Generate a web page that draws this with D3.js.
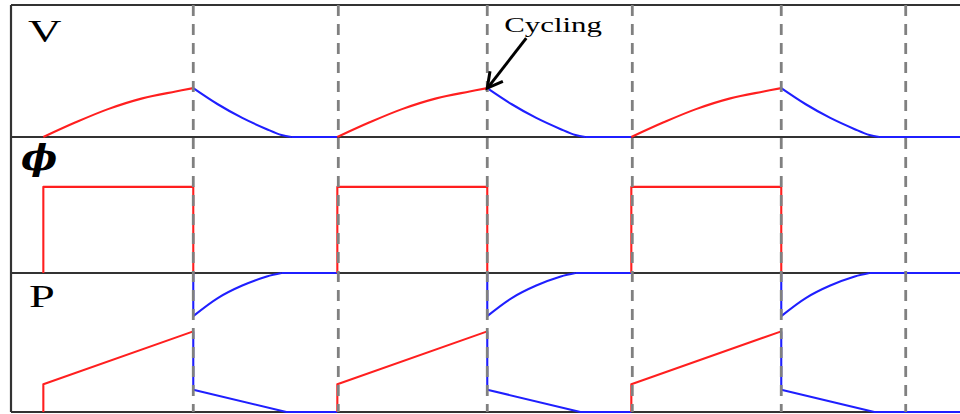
<!DOCTYPE html>
<html>
<head>
<meta charset="utf-8">
<script src="https://cdn.jsdelivr.net/npm/d3@7/dist/d3.min.js"></script>
<style>
  html, body { margin: 0; padding: 0; background: #fff; }
  svg { display: block; }
</style>
</head>
<body>
<svg id="chart" width="960" height="414"></svg>
<script>
// ---- timing of the three cycles (time units) ----
const cycleStart = [0.33, 3.33, 6.33];
const cycleFall  = [1.86, 4.86, 7.86];
const markerTimes = [1.86, 3.34, 4.86, 6.34, 7.86, 9.13];
const tEnd = 9.684;

// ---- V : rise while heating, decay after cycling ----
const vRiseT  = [0, 0.33, 0.66, 1.01, 1.35, 1.53];
const vRiseV  = [0, 0.30, 0.57, 0.79, 0.93, 1.00];
const vDecayT = [0, 0.25, 0.50, 0.75, 0.90, 1.00];
const vDecayV = [1.00, 0.67, 0.39, 0.16, 0.04, 0];

// ---- phi : on / off level ----
const phiOn = 1;

// ---- P : linear ramp, then two relaxing branches ----
const pRampV   = [0.20, 0.58];
const pUpperT  = [0, 0.25, 0.50, 0.75, 0.90];
const pUpperV  = [0.69, 0.82, 0.91, 0.975, 1.00];
const pLowerT  = [0, 0.95];
const pLowerV  = [0.16, 0];
const pTop = 1;

// ---- panel labels ----
const panelLabels = ["V", "\u03D5", "P"];

const svg = d3.select("#chart");
const left = 11, right = 960;
const rows = [5, 137, 273, 412];

const x = d3.scaleLinear().domain([0, tEnd]).range([left, right]);
const yV = d3.scaleLinear().domain([0, 2.7]).range([rows[1], rows[0]]);
const yPhi = d3.scaleLinear().domain([0, 1.58]).range([rows[2], rows[1]]);
const yP = d3.scaleLinear().domain([0, 1]).range([rows[3], rows[2]]);

const RED = "#ff1f1f", BLUE = "#1f1fff";

// frame
const frame = svg.append("g").attr("stroke", "#333").attr("stroke-width", 2.2).attr("fill", "none");
rows.forEach(r => frame.append("line").attr("x1", left).attr("x2", right).attr("y1", r).attr("y2", r));
frame.append("line").attr("x1", left).attr("x2", left).attr("y1", rows[0]).attr("y2", rows[3]);

const smooth = d3.line().x(d => x(d[0])).curve(d3.curveCatmullRom.alpha(0.5));
const straight = d3.line().x(d => x(d[0]));

function drawPath(pts, yScale, gen, color) {
  svg.append("path")
    .attr("d", gen.y(d => yScale(d[1]))(pts))
    .attr("fill", "none")
    .attr("stroke", color)
    .attr("stroke-width", 2.1)
    .attr("stroke-linejoin", "round");
}

cycleStart.forEach((s, i) => {
  const f = cycleFall[i];
  const next = i + 1 < cycleStart.length ? cycleStart[i + 1] : tEnd;

  // V panel
  drawPath(vRiseT.map((t, k) => [s + t * (f - s) / vRiseT[vRiseT.length - 1], vRiseV[k]]), yV, smooth, RED);
  const decay = vDecayT.map((t, k) => [f + t, vDecayV[k]]);
  drawPath(decay, yV, smooth, BLUE);
  drawPath([[f + vDecayT[vDecayT.length - 1], 0], [next, 0]], yV, straight, BLUE);

  // phi panel
  drawPath([[s, 0], [s, phiOn], [f, phiOn], [f, 0]], yPhi, straight, RED);

  // P panel
  drawPath([[s, 0], [s, pRampV[0]], [f, pRampV[1]]], yP, straight, RED);
  drawPath([[f, pRampV[1]], [f, pLowerV[0]], [f + pLowerT[1], pLowerV[1]], [next, 0]], yP, straight, BLUE);
  drawPath([[f, pTop], [f, pUpperV[0]]], yP, straight, BLUE);
  drawPath(pUpperT.map((t, k) => [f + t, pUpperV[k]]), yP, smooth, BLUE);
  drawPath([[f + pUpperT[pUpperT.length - 1], pTop], [next, pTop]], yP, straight, BLUE);
});

// dashed markers
svg.append("g").selectAll("line").data(markerTimes).join("line")
  .attr("x1", d => x(d)).attr("x2", d => x(d))
  .attr("y1", rows[0]).attr("y2", rows[3])
  .attr("stroke", "#808080").attr("stroke-width", 2.8)
  .attr("stroke-dasharray", "11,8");

// panel labels
const labelPos = [[28, 42], [21, 170], [29, 307]];
panelLabels.forEach((txt, i) => {
  const isPhi = i === 1;
  svg.append("text")
    .attr("transform", `translate(${labelPos[i][0]},${labelPos[i][1]}) scale(${isPhi ? 1.1 : 1.45},1)`)
    .attr("font-family", isPhi ? "DejaVu Serif" : "Liberation Serif")
    .attr("font-style", isPhi ? "italic" : "normal")
    .attr("font-weight", isPhi ? "bold" : "normal")
    .attr("font-size", isPhi ? 35 : 32)
    .attr("fill", "#000")
    .text(txt);
});

// "Cycling" annotation pointing at the second peak
const tipX = x(cycleFall[1]), tipY = yV(vRiseV[vRiseV.length - 1]);
svg.append("text")
  .attr("transform", `translate(${tipX + 17},${tipY - 56}) scale(1.47,1)`)
  .attr("font-family", "Liberation Serif")
  .attr("font-size", 21)
  .attr("fill", "#000")
  .text("Cycling");

const ax0 = tipX + 39, ay0 = tipY - 50;
svg.append("line")
  .attr("x1", ax0).attr("y1", ay0).attr("x2", tipX + 1).attr("y2", tipY - 1)
  .attr("stroke", "#000").attr("stroke-width", 3);
const ang = Math.atan2(ay0 - tipY, ax0 - tipX);
const headLen = 17, spread = 0.5;
svg.append("path")
  .attr("d", `M${tipX + headLen * Math.cos(ang - spread)},${tipY + headLen * Math.sin(ang - spread)}L${tipX},${tipY}L${tipX + headLen * Math.cos(ang + spread)},${tipY + headLen * Math.sin(ang + spread)}`)
  .attr("fill", "none").attr("stroke", "#000").attr("stroke-width", 3)
  .attr("stroke-linejoin", "miter");
</script>
</body>
</html>
